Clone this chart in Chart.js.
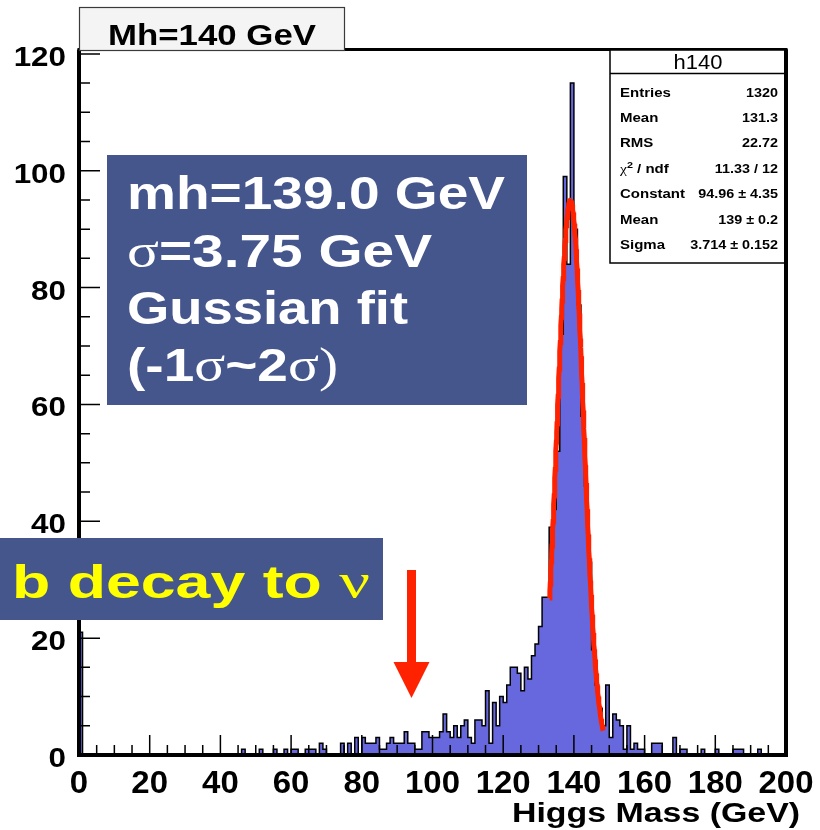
<!DOCTYPE html>
<html>
<head>
<meta charset="utf-8">
<title>Mh=140 GeV</title>
<script src="https://cdn.jsdelivr.net/npm/chart.js@4.4.1/dist/chart.umd.min.js"></script>
<style>
  html, body { margin: 0; padding: 0; background: #ffffff; }
  #wrap { width: 820px; height: 830px; position: relative; }
</style>
</head>
<body>
<div id="wrap"><canvas id="c" width="820" height="830"></canvas></div>
<script>
// ---- histogram h140: entries per 1 GeV bin, first bin starts at 0 GeV ----
const BIN_WIDTH = 1;
const counts = [
  21, 0, 0, 0, 0, 0, 0, 0, 0, 0,      //   0 -   9
   0, 0, 0, 0, 0, 0, 0, 0, 0, 0,      //  10 -  19
   0, 0, 0, 0, 0, 0, 0, 0, 0, 0,      //  20 -  29
   0, 0, 0, 0, 0, 0, 0, 0, 0, 0,      //  30 -  39
   0, 0, 0, 0, 0, 0, 1, 0, 0, 0,      //  40 -  49
   0, 1, 0, 0, 0, 1, 0, 0, 1, 0,      //  50 -  59
   1, 1, 0, 0, 1, 1, 1, 0, 2, 1,      //  60 -  69
   0, 0, 0, 0, 2, 0, 2, 0, 3, 0,      //  70 -  79
   3, 2, 2, 2, 3, 1, 1, 2, 3, 2,      //  80 -  89
   2, 2, 4, 2, 2, 1, 1, 4, 4, 3,      //  90 -  99
   3, 3, 4, 7, 4, 3, 5, 3, 5, 6,      // 100 - 109
   3, 2, 6, 6, 5, 11, 2, 9, 5, 10,    // 110 - 119
   9, 12, 15, 15, 14, 11, 15, 13, 17, 19,   // 120 - 129
  22, 27, 27, 39, 42, 52, 72, 99, 84, 115,  // 130 - 139
  90, 77, 58, 46, 33, 18, 12, 8, 5, 12,     // 140 - 149
   3, 7, 6, 5, 1, 5, 1, 2, 1, 1,      // 150 - 159
   0, 0, 2, 2, 2, 0, 0, 0, 3, 0,      // 160 - 169
   1, 1, 0, 0, 0, 0, 1, 0, 0, 0,      // 170 - 179
   1, 0, 0, 0, 0, 1, 1, 1, 0, 0,      // 180 - 189
   0, 0, 1, 0, 0, 0, 0, 0, 0, 0       // 190 - 199
];

// axis tick labels
const xTickLabels = [0, 20, 40, 60, 80, 100, 120, 140, 160, 180, 200];
const yTickLabels = [0, 20, 40, 60, 80, 100, 120];
const X_MIN = 0, X_MAX = 200, Y_MAX = 120.75;

// Gaussian fit result (Constant, Mean, Sigma) and the range it is drawn over
const fitConstant = 94.96;
const fitMean = 139.0;
const fitSigma = 3.714;
const fitFrom = 133.1, fitTo = 148.3;

// statistics box
const statsTitle = 'h140';
const statsLabels = ['Entries', 'Mean', 'RMS', 'chi2', 'Constant', 'Mean', 'Sigma'];
const statsValues = ['1320', '131.3', '22.72', '11.33 / 12', '94.96 \u00b1 4.35', '139 \u00b1 0.2', '3.714 \u00b1 0.152'];

// ---- build the series the library draws ----
const histPoints = counts.map((c, i) => ({ x: X_MIN + i * BIN_WIDTH, y: c }));
histPoints.push({ x: X_MIN + counts.length * BIN_WIDTH, y: counts[counts.length - 1] });

const fitPoints = [];
const FIT_STEPS = 150;
for (let k = 0; k <= FIT_STEPS; k++) {
  const m = fitFrom + (fitTo - fitFrom) * k / FIT_STEPS;
  const z = (m - fitMean) / fitSigma;
  fitPoints.push({ x: m, y: fitConstant * Math.exp(-0.5 * z * z) });
}

// ---- text helpers ----
const SANS = '"Liberation Sans", Arial, Helvetica, sans-serif';
const SERIF = '"Liberation Serif", "Times New Roman", serif';

function runsWidth(ctx, runs) {
  let w = 0;
  for (const r of runs) { ctx.font = r.font; w += ctx.measureText(r.text).width; }
  return w;
}
// draws a row of text runs, optionally stretched horizontally to a given width
function drawRuns(ctx, runs, x, base, opt) {
  const nat = runsWidth(ctx, runs);
  const sx = opt.width ? opt.width / nat : (opt.sx || 1);
  const w = nat * sx;
  const x0 = opt.align === 'right' ? x - w : opt.align === 'center' ? x - w / 2 : x;
  ctx.save();
  ctx.fillStyle = opt.color || '#000';
  ctx.textBaseline = 'alphabetic';
  ctx.textAlign = 'left';
  ctx.translate(x0, base);
  ctx.scale(sx, 1);
  let cx = 0;
  for (const r of runs) {
    ctx.font = r.font;
    ctx.fillText(r.text, cx, r.dy || 0);
    cx += ctx.measureText(r.text).width;
  }
  ctx.restore();
}
const bold = (px) => `bold ${px}px ${SANS}`;
const plain = (px) => `${px}px ${SANS}`;
const serif = (px) => `${px}px ${SERIF}`;

// ---- frame, ticks, labels, annotation boxes ----
const decor = {
  id: 'decor',
  afterDatasetsDraw(chart) {
    const { ctx, chartArea: a, scales: { x, y } } = chart;
    ctx.save();
    // inward ticks: major every 20, minor every 5
    ctx.strokeStyle = '#000';
    ctx.lineWidth = 1.5;
    ctx.beginPath();
    for (let v = X_MIN; v <= X_MAX; v += 5) {
      const px = x.getPixelForValue(v);
      const len = v % 20 === 0 ? 20 : 10;
      ctx.moveTo(px, a.bottom);
      ctx.lineTo(px, a.bottom - len);
    }
    for (let v = 0; v <= 120; v += 5) {
      const py = y.getPixelForValue(v);
      const len = v % 20 === 0 ? 21 : 11;
      ctx.moveTo(a.left, py);
      ctx.lineTo(a.left + len, py);
    }
    ctx.stroke();
    // frame
    ctx.lineWidth = 3;
    ctx.strokeRect(a.left, a.top, a.right - a.left, a.bottom - a.top);
    ctx.lineWidth = 4;
    ctx.beginPath();
    ctx.moveTo(a.left, a.top); ctx.lineTo(a.left, a.bottom + 2);
    ctx.moveTo(a.left - 2, a.bottom); ctx.lineTo(a.right + 2, a.bottom);
    ctx.moveTo(a.right, a.top); ctx.lineTo(a.right, a.bottom + 2);
    ctx.stroke();
    ctx.restore();
  },
  afterDraw(chart) {
    const { ctx, chartArea: a, scales: { x, y } } = chart;

    // tick labels
    for (const v of xTickLabels) {
      drawRuns(ctx, [{ text: String(v), font: bold(32) }], x.getPixelForValue(v), 793, { align: 'center', sx: 1.03 });
    }
    for (const v of yTickLabels) {
      drawRuns(ctx, [{ text: String(v), font: bold(28) }], a.left - 13, y.getPixelForValue(v) + 12, { align: 'right', sx: 1.12 });
    }
    // axis title
    drawRuns(ctx, [{ text: 'Higgs Mass (GeV)', font: bold(28) }], 800, 822, { align: 'right', width: 288 });

    // title box
    ctx.save();
    ctx.fillStyle = '#f4f4f4';
    ctx.fillRect(79, 7, 266, 44);
    ctx.strokeStyle = '#3a3a3a';
    ctx.lineWidth = 1.2;
    ctx.strokeRect(79.5, 7.5, 265, 43);
    ctx.restore();
    drawRuns(ctx, [{ text: 'Mh=140 GeV', font: bold(29) }], 212, 45, { align: 'center', width: 208 });

    // statistics box
    const bx = 610, by = 50, bw = a.right - 610, bh = 213;
    ctx.save();
    ctx.fillStyle = '#ffffff';
    ctx.fillRect(bx, by, bw, bh);
    ctx.strokeStyle = '#000';
    ctx.lineWidth = 1.5;
    ctx.strokeRect(bx, by, bw, bh);
    ctx.beginPath();
    ctx.moveTo(bx, 73.5); ctx.lineTo(bx + bw, 73.5);
    ctx.stroke();
    ctx.lineWidth = 4;
    ctx.beginPath();
    ctx.moveTo(a.right, a.top); ctx.lineTo(a.right, by + bh);
    ctx.stroke();
    ctx.restore();
    drawRuns(ctx, [{ text: statsTitle, font: plain(20) }], 698, 69, { align: 'center', sx: 1.1 });
    const rowBase = 96.5, rowStep = 25.4;
    statsLabels.forEach((lab, i) => {
      const base = rowBase + i * rowStep;
      const runs = lab === 'chi2'
        ? [{ text: '\u03c7', font: serif(13) }, { text: '2', font: bold(9), dy: -5 }, { text: ' / ndf', font: bold(12.5) }]
        : [{ text: lab, font: bold(12.5) }];
      drawRuns(ctx, runs, 620, base, { align: 'left', sx: 1.2 });
      drawRuns(ctx, [{ text: statsValues[i], font: bold(12.5) }], 778, base, { align: 'right', sx: 1.15 });
    });

    // fit summary box
    ctx.save();
    ctx.fillStyle = '#45568c';
    ctx.fillRect(107, 155, 420, 250);
    ctx.fillRect(0, 538, 383, 82);
    ctx.restore();
    const W = '#ffffff';
    drawRuns(ctx, [{ text: 'mh=139.0 GeV', font: bold(46) }], 127, 209, { width: 378, color: W });
    drawRuns(ctx, [{ text: '\u03c3', font: serif(48) }, { text: '=3.75 GeV', font: bold(46) }], 127, 267, { width: 305, color: W });
    drawRuns(ctx, [{ text: 'Gussian fit', font: bold(46) }], 127, 324, { width: 281, color: W });
    drawRuns(ctx, [
      { text: '(-1', font: bold(46) }, { text: '\u03c3', font: serif(48) },
      { text: '~2', font: bold(46) }, { text: '\u03c3)', font: serif(48) }
    ], 127, 381, { width: 211, color: W });

    // neutrino note
    drawRuns(ctx, [{ text: 'b decay to ', font: bold(46) }, { text: '\u03bd', font: serif(50) }], 12, 598, { width: 358, color: '#ffff00' });

    // arrow
    ctx.save();
    ctx.fillStyle = '#ff2200';
    ctx.fillRect(407, 570, 9, 94);
    ctx.beginPath();
    ctx.moveTo(393.5, 662);
    ctx.lineTo(429.5, 662);
    ctx.lineTo(411.5, 698);
    ctx.closePath();
    ctx.fill();
    ctx.restore();
  }
};

new Chart(document.getElementById('c'), {
  type: 'line',
  data: {
    datasets: [
      {
        label: 'Gaussian fit',
        data: fitPoints,
        borderColor: '#ff2200',
        borderWidth: 5,
        pointRadius: 0,
        fill: false,
        tension: 0,
        order: 0
      },
      {
        label: 'h140',
        data: histPoints,
        stepped: 'before',
        borderColor: '#000000',
        borderWidth: 1.5,
        backgroundColor: '#6868de',
        fill: 'origin',
        pointRadius: 0,
        tension: 0,
        order: 1
      }
    ]
  },
  options: {
    responsive: false,
    animation: false,
    events: [],
    layout: { padding: { left: 79, right: 34, top: 49.5, bottom: 75 } },
    plugins: { legend: { display: false }, tooltip: { enabled: false } },
    scales: {
      x: { type: 'linear', min: X_MIN, max: X_MAX, display: false },
      y: { type: 'linear', min: 0, max: Y_MAX, display: false }
    }
  },
  plugins: [decor]
});
</script>
</body>
</html>
